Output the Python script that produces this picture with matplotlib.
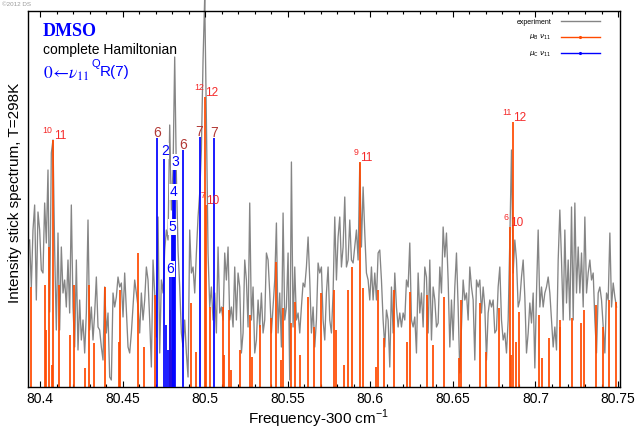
import numpy as np
import matplotlib
matplotlib.use("Agg")
import matplotlib.pyplot as plt
from matplotlib.lines import Line2D
from matplotlib.ticker import MultipleLocator, FuncFormatter

plt.rcParams['font.family'] = ['Liberation Sans', 'DejaVu Sans']

# ---------------------------------------------------------------- data
# measured spectrum, sampled on a uniform frequency grid (cm-1 minus 300)
exp_start, exp_stop = 80.3937, 80.7491
exp_intensity = [
    147, 100, 157, 182, 87, 175, 157, 117, 114, 184, 144, 217, 75, 234, 247, 137, 57, 154,
    57, 140, 94, 107, 80, 127, 74, 182, 80, 40, 127, 37, 87, 47, 67, 34, 74, 167, 57, 80,
    47, 74, 110, 60, 57, 40, 27, 100, 54, 74, 10, 7, 94, 80, 90, 110, 100, 104, 70, 114,
    77, 40, 34, 54, 80, 107, 94, 80, 54, 94, 67, 87, 120, 107,
    67, 20, 127, 94, 50, 170, 34, 107, 94, 137, 157, 147, 262, 177, 217, 330, 212, 137,
    100, 54, 40, 67, 34, 10, 157, 114, 120, 94, 134, 170, 194, 237, 327, 390, 267, 134,
    80, 100, 67, 94, 54, 140, 74, 80, 67, 134, 107, 140, 67, 80, 60, 120, 67, 114, 100, 34,
    54, 127, 107, 60, 184, 67, 100, 34, 47, 87, 60, 94, 54, 67, 134, 127,
    94, 54, 80, 107, 164, 54, 94, 40, 174, 67, 80, 134, 7, 225, 60, 120, 67, 74, 54, 80,
    104, 100, 120, 150, 107, 54, 80, 40, 67, 124, 114, 120, 67, 47, 94, 120, 67, 54, 94, 170,
    107, 150, 170, 120, 140, 190, 120, 127, 167, 127, 124, 140, 157, 127, 224, 140, 200, 154,
    114, 107, 87, 120, 87, 114, 87, 134, 137, 107, 67, 40, 77, 67,
    20, 100, 54, 114, 80, 60, 74, 60, 74, 67, 107, 100, 144, 67, 60, 70, 34, 114, 74, 94,
    60, 120, 110, 54, 127, 47, 100, 87, 60, 64, 120, 94, 160, 130, 154, 107, 40, 87, 47, 100,
    134, 80, 14, 60, 107, 87, 94, 67, 120, 100, 87, 27, 107, 100, 107, 74, 100, 80, 27, 74,
    87, 80, 87, 54, 57, 100, 120, 67, 47, 54, 34, 67,
    147, 237, 114, 147, 127, 80, 87, 110, 127, 90, 34, 54, 84, 64, 94, 19, 94, 157, 80, 100,
    80, 94, 100, 110, 94, 67, 40, 60, 37, 127, 177, 127, 67, 157, 84, 127, 67, 180, 67, 184,
    94, 140, 94, 134, 80, 170, 94, 114, 127, 107, 114, 67, 34, 94, 100, 87, 60, 34, 94, 87,
    154, 80, 104, 90, 80,
]

# calculated stick spectrum, mu_B component of nu_11
b_freq = [
    80.3944, 80.4028, 80.4035, 80.4053, 80.4073, 80.4081, 80.4113, 80.4180, 80.4204, 80.4271,
    80.4295, 80.4325, 80.4392, 80.4476, 80.4486, 80.4593, 80.4628, 80.4694, 80.4787, 80.4796,
    80.4912, 80.4946, 80.4997, 80.5005, 80.5027, 80.5108, 80.5114, 80.5145, 80.5156, 80.5208,
    80.5271, 80.5283, 80.5332, 80.5396, 80.5430, 80.5461, 80.5471, 80.5521, 80.5542, 80.5576,
    80.5622, 80.5657, 80.5699, 80.5780, 80.5794, 80.5840, 80.5864, 80.5890, 80.5935, 80.5955,
    80.6036, 80.6046, 80.6080, 80.6143, 80.6223, 80.6238, 80.6343, 80.6379, 80.6444, 80.6536,
    80.6550, 80.6662, 80.6702, 80.6777, 80.6843, 80.6853, 80.6863, 80.6883, 80.6899, 80.7019,
    80.7040, 80.7085, 80.7146, 80.7150, 80.7220, 80.7273, 80.7293, 80.7367, 80.7408, 80.7448,
    80.7488,
]
b_intensity = [
    100, 102, 57, 140, 22, 247, 102, 52, 102, 19,
    102, 44, 100, 45, 97, 134, 40, 92, 77, 37,
    84, 35, 290, 182, 80, 80, 32, 77, 17, 37,
    72, 30, 62, 69, 125, 27, 79, 64, 85, 32,
    90, 60, 94, 97, 57, 22, 97, 120, 225, 99,
    20, 97, 49, 97, 45, 95, 92, 42, 90, 29,
    87, 84, 35, 79, 160, 32, 265, 45, 75, 72,
    29, 49, 67, 60, 69, 64, 77, 82, 60, 87,
    85,
]

# calculated stick spectrum, mu_C component of nu_11
c_freq = [80.4711, 80.4751, 80.4765, 80.4775, 80.4785, 80.4796, 80.4805, 80.4814,
          80.4820, 80.4864, 80.4966, 80.5054]
c_intensity = [249, 235, 62, 37, 117, 159, 194, 224, 224, 237, 250, 249]

# assignments: (frequency, superscript, main number)
b_labels = [(80.4081, '10', '11'), (80.4997, '12', '12'), (80.5005, '7', '10'),
            (80.5935, '9', '11'), (80.6863, '11', '12'), (80.6843, '6', '10')]
c_labels_dark = [(80.4711, '6'), (80.4864, '6'), (80.4966, '7'), (80.5054, '7')]
c_labels_blue = [(80.4751, '2'), (80.4814, '3'), (80.4805, '4'), (80.4796, '5'),
                 (80.4785, '6')]

x_ticks_step = 0.05
x_minor_step = 0.01

# ---------------------------------------------------------------- figure
W, H = 638, 433
fig = plt.figure(figsize=(W / 100, H / 100), dpi=100)
ax = fig.add_axes([28 / W, 46 / H, 592 / W, 376 / H])

GRAY = '#858585'
ORANGE = '#ff4a00'
BLUE = '#0000ff'
RED = '#f52a2a'
DARKRED = '#b23a36'

exp_freq = np.linspace(exp_start, exp_stop, len(exp_intensity))
ax.plot(exp_freq, exp_intensity, color=GRAY, lw=0.95, zorder=1, clip_on=False)
ax.vlines(b_freq, 0, b_intensity, color=ORANGE, lw=1.25, zorder=2)
ax.vlines(c_freq, 0, c_intensity, color=BLUE, lw=1.25, zorder=3)

ax.set_xlim(80.3927, 80.7512)
ax.set_ylim(0, 376)
ax.set_yticks([])

ax.xaxis.set_major_locator(MultipleLocator(x_ticks_step))
ax.xaxis.set_minor_locator(MultipleLocator(x_minor_step))
ax.xaxis.set_major_formatter(FuncFormatter(lambda v, p: '%g' % v))
ax.tick_params(axis='x', which='both', direction='in', top=True, labelsize=10, pad=3.5)
ax.tick_params(axis='x', which='major', length=4, width=0.8)
ax.tick_params(axis='x', which='minor', length=2.2, width=0.8)
for s in ax.spines.values():
    s.set_linewidth(1.0)


def height_at(freqs, heights, f):
    i = int(np.argmin(np.abs(np.asarray(freqs) - f)))
    return heights[i]


for f, sup, main in b_labels:
    h = height_at(b_freq, b_intensity, f)
    ax.annotate(main, (f, h), xytext=(0.3, 0.8), textcoords='offset points',
                ha='left', va='baseline', color=RED, fontsize=8.5, zorder=5)
    ax.annotate(sup, (f, h), xytext=(-0.6, 5), textcoords='offset points',
                ha='right', va='baseline', color=RED, fontsize=6.3, zorder=5)

for f, t in c_labels_dark:
    h = height_at(c_freq, c_intensity, f)
    ax.annotate(t, (f, h), xytext=(0, 0.8), textcoords='offset points',
                ha='center', va='baseline', color=DARKRED, fontsize=10, zorder=5)

for f, t in c_labels_blue:
    h = height_at(c_freq, c_intensity, f)
    ax.annotate(t, (f, h), xytext=(0.5, -2.2), textcoords='offset points',
                ha='center', va='baseline', color=BLUE, fontsize=10, zorder=5,
                bbox=dict(boxstyle='square,pad=0.05', fc='white', ec='none'))

# legend
handles = [Line2D([], [], color=GRAY, lw=1.0),
           Line2D([], [], color=ORANGE, lw=1.0, marker='.', ms=2.5),
           Line2D([], [], color=BLUE, lw=1.0, marker='.', ms=2.5)]
labels = ['experiment', r'$\mu_{\rm B}\ \nu_{11}$', r'$\mu_{\rm C}\ \nu_{11}$']
ax.legend(handles, labels, loc='upper right', bbox_to_anchor=(0.966, 0.979),
          fontsize=5, handlelength=5.6, handletextpad=1.4, labelspacing=1.05,
          borderpad=0, borderaxespad=0, markerfirst=False, frameon=False, numpoints=1)

# titles and axis labels
fig.text(2 / W, 1 - 5 / H, '\u00a92012 DS', fontsize=4.5, color='#9a9a9a', va='center')
fig.text(43 / W, 1 - 31 / H, 'DMSO', fontsize=13, fontweight='bold', color=BLUE,
         family='Liberation Serif', va='center')
fig.text(43 / W, 1 - 50 / H, 'complete Hamiltonian', fontsize=10, color='black',
         va='center')
fig.text(43 / W, 1 - 74 / H, r'$0\!\leftarrow\!\nu_{11}$', fontsize=12.5, color=BLUE,
         math_fontfamily='stix', va='center')
fig.text(92 / W, 1 - 64 / H, 'Q', fontsize=8, color=BLUE, va='center')
fig.text(100 / W, 1 - 72 / H, 'R(7)', fontsize=11, color=BLUE, va='center')

fig.text(15 / W, 1 - 193 / H, 'Intensity stick spectrum, T=298K', rotation=90,
         fontsize=11, ha='center', va='center')
fig.text(318 / W, 1 - 419 / H, r'Frequency-300 cm$^{\mathregular{-1}}$', fontsize=11,
         ha='center', va='center')

fig.savefig('out.png', dpi=100)
